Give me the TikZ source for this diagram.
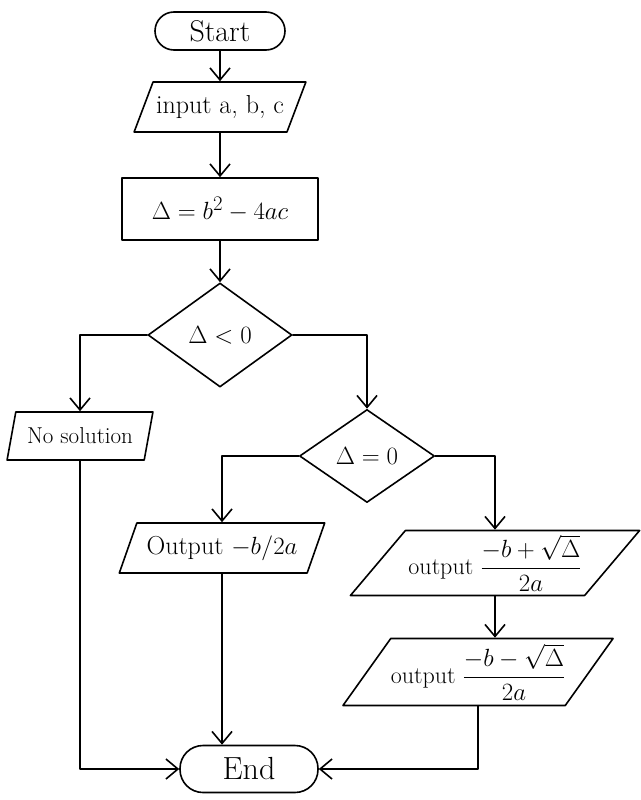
\documentclass[tikz,border=0pt]{standalone}
\usepackage{amsmath}
\usetikzlibrary{shapes.geometric,arrows.meta}
\begin{document}
\begin{tikzpicture}[x=1pt,y=-1pt,
  every node/.style={font=\fontsize{26}{30}\selectfont},
  line/.style={line width=1.6pt, line cap=round, line join=round},
  arr/.style={line, -{Straight Barb[length=12pt,width=20pt,line width=1.6pt]}},
  term/.style={line, draw, rectangle, rounded corners=19pt, inner sep=0pt},
  io/.style={line, draw, trapezium, trapezium stretches=true, inner sep=0pt},
  proc/.style={line, draw, rectangle, inner sep=0pt},
  dec/.style={line, draw, diamond, inner sep=0pt, aspect=1.4}]
\useasboundingbox (0,0) rectangle (640,800);
\node[term, minimum width=130pt, minimum height=38pt, font=\fontsize{30}{34}\selectfont] (start) at (220,31) {Start};
\node[io, trapezium left angle=52, trapezium right angle=128, minimum width=172pt, minimum height=50pt] (input) at (220,107) {input a, b, c};
\node[proc, minimum width=196pt, minimum height=62pt, font=\fontsize{30}{34}\selectfont] (delta) at (220,209) {$\Delta = b^2 - 4ac$};
\node[dec, minimum width=144pt, minimum height=104pt, font=\fontsize{28}{32}\selectfont] (d1) at (220,335) {$\Delta < 0$};
\node[io, trapezium left angle=66, trapezium right angle=114, minimum width=146pt, minimum height=48pt, font=\fontsize{23}{27}\selectfont] (nosol) at (80,436) {No solution};
\node[dec, minimum width=135pt, minimum height=93pt, font=\fontsize{28}{32}\selectfont] (d2) at (367,456) {$\Delta = 0$};
\node[io, trapezium left angle=58, trapezium right angle=122, minimum width=206pt, minimum height=50pt] (out1) at (222,548) {Output $-b/2a$};
\node[io, trapezium left angle=47, trapezium right angle=133, minimum width=290pt, minimum height=65pt, font=\fontsize{24}{28}\selectfont] (out2) at (495,563) {output $\dfrac{-b+\sqrt{\Delta}}{2a}$};
\node[io, trapezium left angle=50, trapezium right angle=130, minimum width=250pt, minimum height=67pt, font=\fontsize{24}{28}\selectfont] (out3) at (478,672) {output $\dfrac{-b-\sqrt{\Delta}}{2a}$};
\node[term, minimum width=138pt, minimum height=47pt, rounded corners=23pt, font=\fontsize{32}{36}\selectfont] (end) at (249,769) {End};
\draw[arr] (start) -- (input);
\draw[arr] (input) -- (delta);
\draw[arr] (delta) -- (d1);
\draw[arr] (d1.west) -| (nosol.north);
\draw[arr] (d1.east) -| (d2.north);
\draw[arr] (d2.west) -| (out1.north);
\draw[arr] (d2.east) -| (out2.north);
\draw[arr] (out2.south) -- (out2.south |- out3.north);
\draw[arr] (nosol.south) |- (end.west);
\draw[arr] (out1.south) -- (out1.south |- end.north);
\draw[arr] (out3.south) |- (end.east);
\end{tikzpicture}
\end{document}
